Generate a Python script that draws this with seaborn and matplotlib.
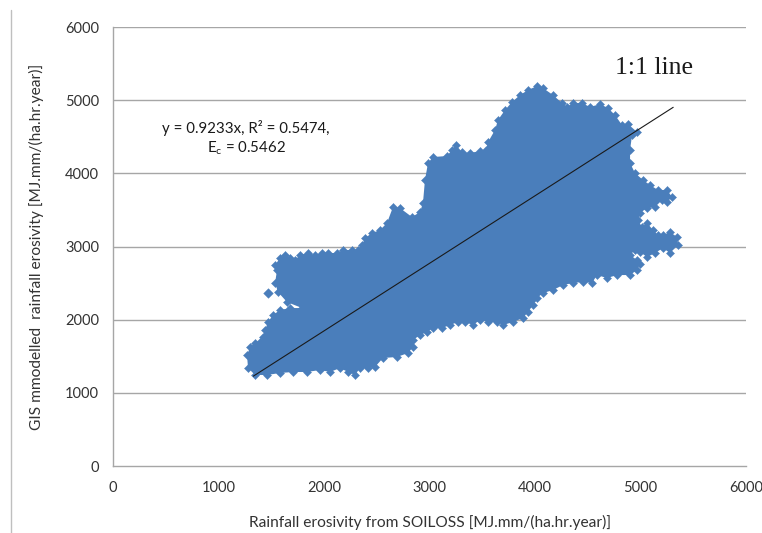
import matplotlib
matplotlib.use("Agg")
import matplotlib.pyplot as plt
from matplotlib.lines import Line2D
import numpy as np
import pandas as pd
import seaborn as sns

# Outline of the dense point cloud (SOILOSS R, GIS R), traced clockwise
cloud_x = [1346, 1280, 1270, 1300, 1346, 1393, 1422, 1441, 1469, 1517, 1583, 1678, 1792,
           1649, 1564, 1536, 1555, 1536, 1583, 1630, 1678, 1725, 1773, 1848, 1915, 1981,
           2038, 2123, 2180, 2265, 2322, 2360, 2389, 2455, 2531, 2597, 2654, 2720, 2834,
           2910, 2938, 2957, 2986, 3033, 3166, 3213, 3251, 3308, 3384, 3479, 3536, 3555,
           3621, 3649, 3716, 3782, 3858, 3934, 4019, 4076, 4171, 4256, 4303, 4360, 4446,
           4522, 4616, 4692, 4758, 4825, 4882, 4967, 4920, 4901, 4901, 4948, 5024, 5090,
           5166, 5251, 5299, 5251, 5204, 5138, 5062, 4995, 4976, 5014, 5062, 5119, 5166,
           5213, 5280, 5346, 5356, 5280, 5213, 5138, 5062, 4995, 4948, 4901, 4967, 4995,
           4967, 4901, 4777, 4683, 4588, 4540, 4455, 4360, 4266, 4171, 4076, 4019, 3972,
           3981, 3934, 3886, 3792, 3697, 3640, 3555, 3479, 3412, 3337, 3270, 3194, 3119,
           3033, 2976, 2910, 2844, 2844, 2796, 2692, 2559, 2483, 2417, 2341, 2294, 2228,
           2152, 2057, 1962, 1839, 1706, 1583, 1460]
cloud_y = [1244, 1340, 1517, 1626, 1681, 1695, 1763, 1859, 1968, 2064, 2132, 2159, 2159,
           2241, 2378, 2501, 2679, 2747, 2843, 2884, 2843, 2815, 2884, 2911, 2884, 2911,
           2911, 2911, 2952, 2952, 2952, 3020, 3116, 3184, 3225, 3321, 3540, 3526, 3403,
           3471, 3594, 3909, 4141, 4223, 4237, 4319, 4387, 4291, 4278, 4305, 4319, 4428,
           4592, 4729, 4865, 4975, 5070, 5139, 5193, 5166, 5070, 4961, 4906, 4961, 4961,
           4906, 4947, 4893, 4797, 4660, 4674, 4565, 4524, 4319, 4141, 4004, 3909, 3840,
           3772, 3772, 3676, 3608, 3635, 3540, 3526, 3458, 3362, 3266, 3321, 3225, 3157,
           3157, 3198, 3130, 3020, 2911, 2979, 2911, 2856, 2925, 2952, 2884, 2815, 2761,
           2679, 2610, 2610, 2569, 2610, 2501, 2515, 2501, 2474, 2405, 2364, 2296, 2269,
           2200, 2105, 2023, 1968, 1927, 1968, 1968, 1995, 1927, 1968, 1968, 1927, 1886,
           1886, 1831, 1790, 1722, 1626, 1544, 1490, 1476, 1353, 1339, 1339, 1244, 1285,
           1339, 1285, 1312, 1285, 1285, 1271, 1244]

# Points standing apart from the cloud
outlier_x = [1470, 1610]
outlier_y = [2365, 2515]

# Fitted line through the origin and its statistics
slope = 0.9233
r2 = 0.5474
ec = 0.5462
line_x = [1330, 5310]

x_ticks = [0, 1000, 2000, 3000, 4000, 5000, 6000]
y_ticks = [0, 1000, 2000, 3000, 4000, 5000, 6000]

x_label = "Rainfall erosivity from SOILOSS [MJ.mm/(ha.hr.year)]"
y_label = "GIS mmodelled  rainfall erosivity [MJ.mm/(ha.hr.year)]"

sns.set_style("white")
plt.rcParams["font.family"] = ["Lato", "DejaVu Sans"]

blue = "#4A7EBB"
text_col = "#333333"
grid_col = "#A6A6A6"

fig = plt.figure(figsize=(7.62, 5.33), dpi=100)
ax = fig.add_axes([0.1483, 0.1257, 0.8307, 0.8236])

# Cloud body and its diamond-studded edge
ax.fill(cloud_x, cloud_y, color=blue, lw=0, zorder=2)
edge = pd.DataFrame({"x": cloud_x, "y": cloud_y})
sns.scatterplot(data=edge, x="x", y="y", marker="D", s=17, color=blue,
                edgecolor=blue, linewidth=0.3, ax=ax, zorder=3)
outl = pd.DataFrame({"x": outlier_x, "y": outlier_y})
sns.scatterplot(data=outl, x="x", y="y", marker="D", s=24, color=blue,
                edgecolor=blue, linewidth=0.3, ax=ax, zorder=3)

# Regression / 1:1 line
fit = pd.DataFrame({"x": line_x, "y": [slope * v for v in line_x]})
sns.lineplot(data=fit, x="x", y="y", color="#1a1a1a", lw=0.8, ax=ax, zorder=4)

ax.set_xlim(0, 6000)
ax.set_ylim(0, 6000)
ax.set_xticks(x_ticks)
ax.set_yticks(y_ticks)
ax.set_xticklabels([str(v) for v in x_ticks])
ax.set_yticklabels([str(v) for v in y_ticks])

for v in y_ticks[1:]:
    ax.axhline(v, color=grid_col, lw=1.0, zorder=1)

for s in ["top", "right"]:
    ax.spines[s].set_visible(False)
for s in ["left", "bottom"]:
    ax.spines[s].set_color(grid_col)
    ax.spines[s].set_linewidth(1.0)

ax.tick_params(axis="both", which="major", direction="out", length=4,
               width=1.0, color=grid_col, labelsize=10.5, labelcolor=text_col)
ax.tick_params(axis="x", pad=7)
ax.tick_params(axis="y", pad=6)

ax.set_xlabel(x_label, fontsize=11.2, color=text_col, labelpad=14)
ax.set_ylabel(y_label, fontsize=11.2, color=text_col, labelpad=15)

ax.text(1261, 4619, f"y = {slope}x, R² = {r2},", ha="center", va="center",
        fontsize=10.8, color="#1a1a1a")
ax.text(1261, 4346, f"E$_\\mathregular{{c}}$ = {ec}", ha="center", va="center",
        fontsize=10.8, color="#1a1a1a")
ax.text(5128, 5440, "1:1 line", ha="center", va="center",
        fontsize=18.5, color="#1a1a1a", family=["Liberation Serif", "DejaVu Serif"])

if ax.get_legend() is not None:
    ax.get_legend().remove()

# Chart-area frame edge on the left
fig.add_artist(Line2D([10.5 / 762, 10.5 / 762], [0, 1 - 10 / 533],
                      transform=fig.transFigure, color="#BFBFBF", lw=1.0))

fig.savefig("out.png", dpi=100)
